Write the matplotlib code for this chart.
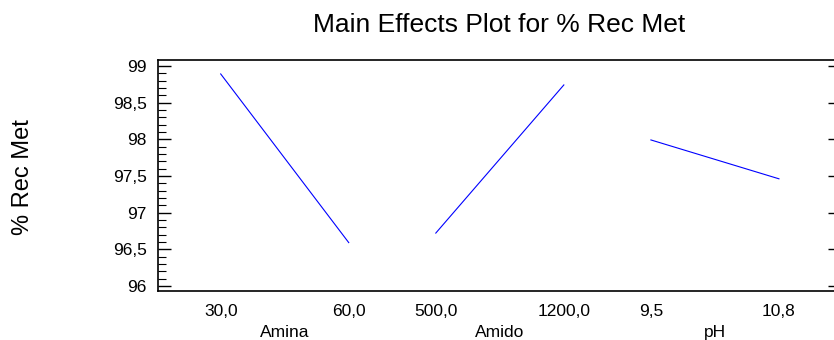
import matplotlib
matplotlib.use("Agg")
import matplotlib.pyplot as plt
from matplotlib.ticker import MultipleLocator, FuncFormatter

plt.rcParams['font.family'] = ['Liberation Sans', 'DejaVu Sans']

# factor levels and mean response at each level
factors = ["Amina", "Amido", "pH"]
levels = [["30,0", "60,0"], ["500,0", "1200,0"], ["9,5", "10,8"]]
means = [[98.89, 96.59], [96.72, 98.74], [97.99, 97.46]]

gap = 0.68  # spacing between factor groups, in units of one level step

fig = plt.figure(figsize=(8.34, 3.40), dpi=100)
ax = fig.add_axes([0.1894, 0.1441, 0.8106, 0.6794])

xticks, xlabels = [], []
for i, (name, lev, m) in enumerate(zip(factors, levels, means)):
    x0 = i * (1 + gap)
    xs = [x0, x0 + 1]
    ax.plot(xs, m, color="#0000ff", lw=0.8)
    xticks += xs
    xlabels += lev
    ax.annotate(name, xy=(x0 + 0.5, 0), xycoords=("data", "axes fraction"),
                xytext=(0, -33), textcoords="offset points",
                ha="center", va="baseline", fontsize=12.5)

ax.set_xlim(-0.49, 4.79)
ax.set_ylim(95.93, 99.08)
ax.set_xticks(xticks)
ax.set_xticklabels(xlabels, fontsize=12.5)
ax.tick_params(axis="x", length=0, pad=9)

ax.yaxis.set_major_locator(MultipleLocator(0.5))
ax.yaxis.set_minor_locator(MultipleLocator(0.1))
ax.yaxis.set_major_formatter(FuncFormatter(lambda v, p: f"{v:g}".replace(".", ",")))
ax.tick_params(axis="y", which="major", direction="in", length=9.5, width=1,
               labelsize=12.5, pad=8, right=True)
ax.tick_params(axis="y", which="minor", direction="in", length=5.5, width=0.8)
ax.tick_params(axis="y", which="minor", right=False)
for t in ax.yaxis.get_major_ticks():
    t.tick2line.set_markersize(4.5)

ax.spines["right"].set_visible(False)
for s in ("left", "top", "bottom"):
    ax.spines[s].set_linewidth(1.2)

fig.text(0.598, 0.925, "Main Effects Plot for % Rec Met", ha="center",
         va="center", fontsize=19)
fig.text(0.027, 0.48, "% Rec Met", rotation=90, ha="center", va="center",
         fontsize=17)

fig.savefig("out.png", dpi=100)
